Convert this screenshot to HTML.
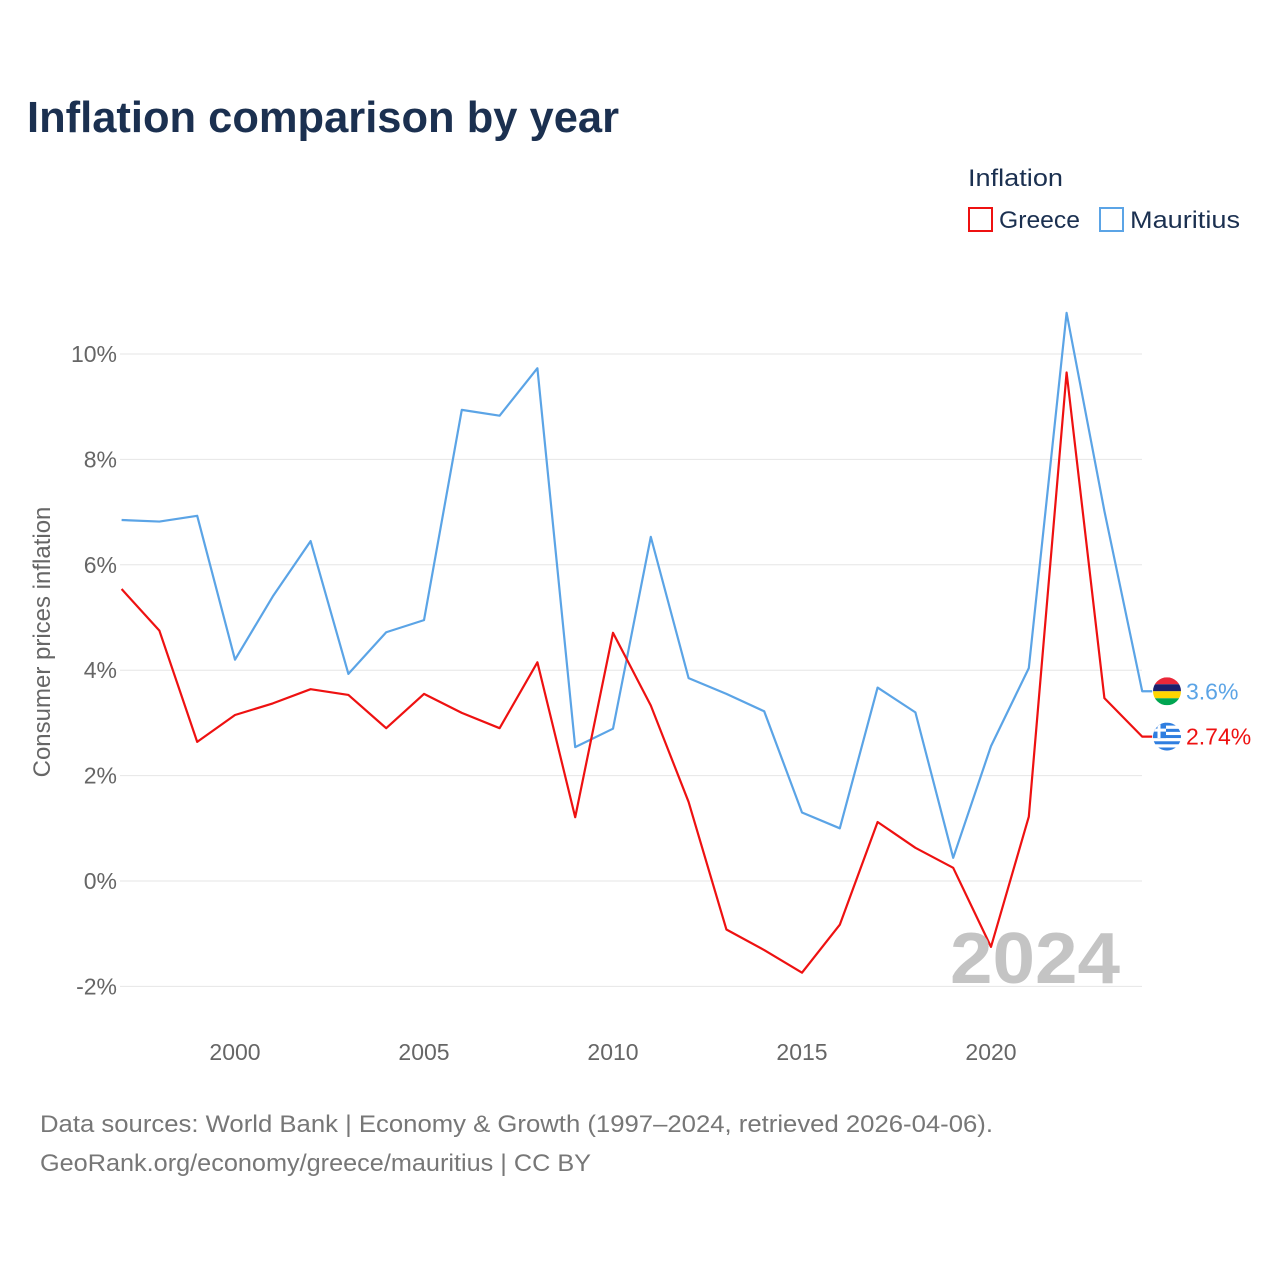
<!DOCTYPE html>
<html><head><meta charset="utf-8"><style>
body{margin:0;background:#fff;font-family:"Liberation Sans",sans-serif;}
</style></head><body>
<svg width="1280" height="1280" xmlns="http://www.w3.org/2000/svg">
<text x="27" y="132" font-size="44" font-weight="bold" fill="#1b3050" textLength="592" lengthAdjust="spacingAndGlyphs">Inflation comparison by year</text>
<text x="968" y="186" font-size="24" fill="#1b3050" textLength="95" lengthAdjust="spacingAndGlyphs">Inflation</text>
<g><rect x="969" y="208" width="23" height="23" fill="none" stroke="#ee1111" stroke-width="2"/><text x="999" y="228" font-size="24" fill="#1b3050" textLength="81" lengthAdjust="spacingAndGlyphs">Greece</text></g>
<g><rect x="1100" y="208" width="23" height="23" fill="none" stroke="#5ba4e6" stroke-width="2"/><text x="1130" y="228" font-size="24" fill="#1b3050" textLength="110" lengthAdjust="spacingAndGlyphs">Mauritius</text></g>
<g id="grid"></g><g id="lines"></g>
<text x="1120" y="983" font-size="72" font-weight="bold" fill="#c4c4c4" text-anchor="end" textLength="170" lengthAdjust="spacingAndGlyphs">2024</text>
<text transform="translate(50,642) rotate(-90)" font-size="24" fill="#666" text-anchor="middle">Consumer prices inflation</text>
<text x="40" y="1132" font-size="24" fill="#777" textLength="953" lengthAdjust="spacingAndGlyphs">Data sources: World Bank | Economy &amp; Growth (1997–2024, retrieved 2026-04-06).</text>
<text x="40" y="1171" font-size="24" fill="#777" textLength="551" lengthAdjust="spacingAndGlyphs">GeoRank.org/economy/greece/mauritius | CC BY</text>
</svg>
<script>
const years=[1997,1998,1999,2000,2001,2002,2003,2004,2005,2006,2007,2008,2009,2010,2011,2012,2013,2014,2015,2016,2017,2018,2019,2020,2021,2022,2023,2024];
const mauritius=[6.85,6.82,6.93,4.2,5.4,6.45,3.93,4.72,4.95,8.94,8.83,9.73,2.54,2.89,6.53,3.85,3.55,3.22,1.3,1.0,3.67,3.2,0.44,2.56,4.04,10.78,7.02,3.6];
const greece=[5.54,4.75,2.64,3.15,3.37,3.64,3.53,2.9,3.55,3.19,2.9,4.15,1.21,4.71,3.33,1.5,-0.92,-1.31,-1.74,-0.83,1.12,0.63,0.25,-1.25,1.22,9.65,3.47,2.74];
const yTicks=[-2,0,2,4,6,8,10];
const xTicks=[2000,2005,2010,2015,2020];
const NS="http://www.w3.org/2000/svg";
const X=y=>121.6+(y-1997)*37.8;
const Y=v=>881-v*52.7;
function mk(t,a,p){const e=document.createElementNS(NS,t);for(const k in a)e.setAttribute(k,a[k]);p.appendChild(e);return e;}
const g=document.getElementById('grid'),l=document.getElementById('lines');
yTicks.forEach(v=>{
 const ln=mk('line',{x1:120,x2:1142,y1:Y(v),y2:Y(v),stroke:'#e6e6e6','stroke-width':1},g);
 
 
 const t=mk('text',{x:117,y:Y(v)+8,'font-size':23,fill:'#666','text-anchor':'end'},g);t.textContent=v+'%';
 
 
});
xTicks.forEach(v=>{
 const t=mk('text',{x:X(v),y:1060,'font-size':23,fill:'#666','text-anchor':'middle'},g);t.textContent=v;
 
 
});
function series(vals,color,name){
 let d=vals.map((v,i)=>(i?'L':'M')+X(years[i])+','+Y(v)).join(' ');
 d+=' L'+(X(years[years.length-1])+10)+','+Y(vals[vals.length-1]);
 const p=mk('path',{d:d,fill:'none',stroke:color,'stroke-width':2.2,'stroke-linejoin':'round'},l);
 
 
}
series(mauritius,'#5ba4e6','mauritius');
series(greece,'#ee1111','greece');
const mv=mauritius[mauritius.length-1],gv=greece[greece.length-1];
const cy1=Y(mv);
const cp=mk('clipPath',{id:'cc1'},l);mk('circle',{cx:1167,cy:cy1,r:14},cp);
const fm=mk('g',{'clip-path':'url(#cc1)'},l);


['#ea2839','#1a206d','#ffd500','#00a551'].forEach((c,i)=>mk('rect',{x:1152,y:cy1-14+i*7,width:30,height:7,fill:c},fm));
const ml=mk('text',{x:1186,y:cy1+8,'font-size':23,fill:'#5ba4e6'},l);ml.textContent=mv+'%';


const cy2=Y(gv);
const cp2=mk('clipPath',{id:'cc2'},l);mk('circle',{cx:1167,cy:cy2,r:14},cp2);
const fg=mk('g',{'clip-path':'url(#cc2)'},l);


for(let i=0;i<9;i++)mk('rect',{x:1152,y:cy2-14+i*28/9,width:30,height:28/9,fill:i%2?'#fff':'#2f7ee0'},fg);
mk('rect',{x:1152,y:cy2-14,width:14,height:15.5,fill:'#2f7ee0'},fg);
mk('rect',{x:1152,y:cy2-8,width:14,height:3,fill:'#fff'},fg);
mk('rect',{x:1157.5,y:cy2-14,width:3,height:15.5,fill:'#fff'},fg);
const gl=mk('text',{x:1186,y:cy2+8,'font-size':23,fill:'#ee1111'},l);gl.textContent=gv+'%';


</script>
</body></html>
